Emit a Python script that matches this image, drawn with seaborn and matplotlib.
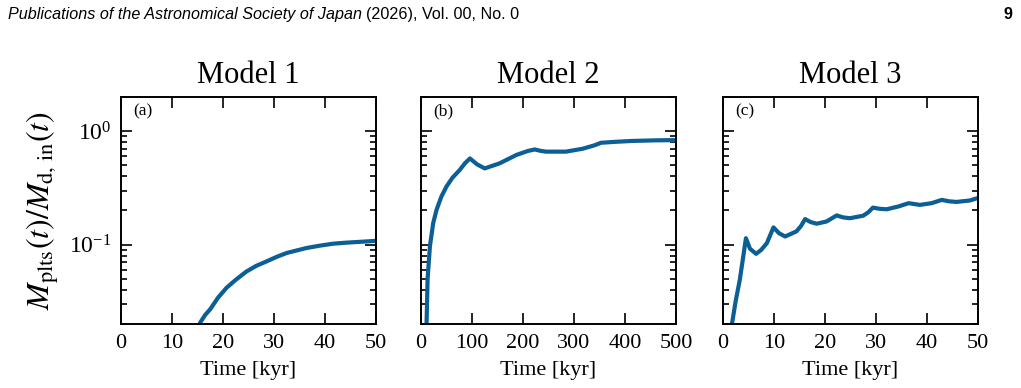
import matplotlib
matplotlib.use("Agg")
import matplotlib.pyplot as plt
import seaborn as sns
import pandas as pd
from matplotlib.ticker import LogLocator, NullFormatter, MultipleLocator

# Model 1: time [kyr] and M_plts / M_d,in
t_model1 = [15.5, 16.5, 17.5, 19.0, 20.7, 22.5, 24.6, 26.5, 28.6, 30.5, 32.5, 34.5, 36.4, 39.0, 41.6, 44.0, 47.0, 50.0]
m_model1 = [0.0205, 0.024, 0.027, 0.034, 0.0417, 0.049, 0.058, 0.065, 0.0714, 0.078, 0.0845, 0.089, 0.0935, 0.098, 0.102, 0.104, 0.106, 0.108]

# Model 2
t_model2 = [11, 13, 17.6, 24, 30.6, 40, 50, 62, 76, 86, 96, 110, 125, 154, 187, 210, 223, 235, 245, 284, 317, 340, 353, 380, 414, 460, 500]
m_model2 = [0.0205, 0.05, 0.097, 0.155, 0.203, 0.265, 0.325, 0.39, 0.455, 0.52, 0.575, 0.51, 0.47, 0.52, 0.617, 0.67, 0.69, 0.67, 0.66, 0.66, 0.70, 0.75, 0.79, 0.805, 0.82, 0.83, 0.834]

# Model 3
t_model3 = [1.8, 2.5, 3.3, 4.0, 4.5, 5.3, 6.5, 7.5, 8.6, 9.9, 11.0, 12.2, 14.4, 15.3, 16.1, 17.2, 18.4, 20.3, 22.3, 23.5, 24.9, 27.5, 28.5, 29.4, 30.7, 32.1, 34.4, 36.4, 38.6, 40.9, 42.9, 44.3, 45.8, 48.4, 50.0]
m_model3 = [0.0205, 0.032, 0.049, 0.08, 0.114, 0.092, 0.083, 0.09, 0.103, 0.142, 0.126, 0.118, 0.131, 0.146, 0.168, 0.158, 0.153, 0.160, 0.181, 0.174, 0.171, 0.18, 0.193, 0.212, 0.207, 0.205, 0.217, 0.232, 0.224, 0.232, 0.248, 0.241, 0.238, 0.245, 0.258]

titles = ["Model 1", "Model 2", "Model 3"]
panel_tags = ["(a)", "(b)", "(c)"]
x_limits = [50, 500, 50]
x_steps = [10, 100, 10]

line_color = "#0b5f95"

sns.set_style("ticks")
plt.rcParams["font.family"] = ["Liberation Serif", "DejaVu Serif"]
plt.rcParams["mathtext.fontset"] = "stix"
plt.rcParams["text.color"] = "black"
plt.rcParams["axes.labelcolor"] = "black"
plt.rcParams["axes.edgecolor"] = "black"
plt.rcParams["xtick.color"] = "black"
plt.rcParams["ytick.color"] = "black"

frames = [
    pd.DataFrame({"time": t_model1, "ratio": m_model1}),
    pd.DataFrame({"time": t_model2, "ratio": m_model2}),
    pd.DataFrame({"time": t_model3, "ratio": m_model3}),
]

fig = plt.figure(figsize=(10.21, 3.88), dpi=100)
lefts = [0.1185, 0.4123, 0.7081]
axes = [fig.add_axes([l, 0.165, 0.2498, 0.585]) for l in lefts]

for i, ax in enumerate(axes):
    sns.lineplot(data=frames[i], x="time", y="ratio", ax=ax, color=line_color, linewidth=3.0)
    ax.set_yscale("log")
    ax.set_ylim(0.02, 2.0)
    ax.set_xlim(0, x_limits[i])
    ax.xaxis.set_major_locator(MultipleLocator(x_steps[i]))
    ax.yaxis.set_major_locator(LogLocator(base=10, numticks=10))
    ax.yaxis.set_minor_locator(LogLocator(base=10, subs=range(2, 10), numticks=10))
    ax.yaxis.set_minor_formatter(NullFormatter())
    ax.tick_params(which="both", direction="in", top=True, right=True, width=1.2,
                   labelsize=16, pad=7)
    ax.tick_params(axis="y", labelsize=17)
    ax.tick_params(which="major", length=8)
    ax.tick_params(which="minor", length=4.5)
    for s in ax.spines.values():
        s.set_linewidth(1.4)
        s.set_color("black")
    ax.set_title(titles[i], fontsize=22, pad=10)
    ax.set_xlabel("Time [kyr]", fontsize=16, labelpad=6)
    ax.text(0.05, 0.97, panel_tags[i], transform=ax.transAxes, fontsize=12.5, va="top", ha="left")
    if i == 0:
        ax.set_ylabel(r"$M_{\rm plts}(t)/M_{\rm d,\,in}(t)$", fontsize=23, labelpad=6)
    else:
        ax.set_ylabel("")
        ax.tick_params(axis="y", which="both", labelleft=False)

head1 = fig.text(0.008, 0.963, "Publications of the Astronomical Society of Japan", fontsize=11.6,
                 family="Liberation Sans", style="italic", va="center", ha="left")
fig.canvas.draw()
bb = head1.get_window_extent(renderer=fig.canvas.get_renderer())
fig.text((bb.x1 + 4) / fig.bbox.width, 0.963, "(2026), Vol. 00, No. 0", fontsize=11.6,
         family="Liberation Sans", va="center", ha="left")
fig.text(0.992, 0.963, "9", fontsize=11.6, family="Liberation Sans", weight="bold",
         va="center", ha="right")

fig.savefig("out.png", dpi=100)
